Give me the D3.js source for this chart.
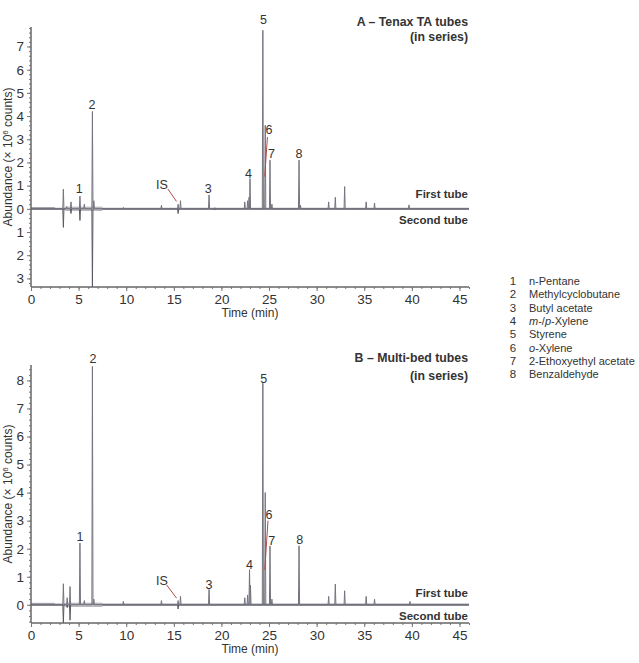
<!DOCTYPE html>
<html><head><meta charset="utf-8">
<script src="https://cdn.jsdelivr.net/npm/d3@7"></script>
<style>
body{margin:0;background:#fff;}
text{font-family:"Liberation Sans",Arial,sans-serif;fill:#333;}
</style></head>
<body><svg id="c" width="639" height="663"></svg>
<script>
// ---- data ----
const timeTicks = [0,5,10,15,20,25,30,35,40,45];
const yTicksA = [-3,-2,-1,0,1,2,3,4,5,6,7];
const yTicksB = [0,1,2,3,4,5,6,7,8];
// [retention time (min), abundance (x10^6 counts)]
const firstTubeA = [[3.4,0.85],[3.75,0.1],[4.2,0.3],[5.14,0.55],[5.6,0.2],[6.45,4.2],[6.6,0.35],[9.7,0.06],[13.7,0.15],[15.45,0.2],[15.7,0.35],[18.7,0.6],[19.3,0.05],[22.45,0.3],[22.75,0.35],[22.9,0.5],[23.0,1.3],[24.35,7.7],[24.6,3.6],[25.1,2.1],[25.3,0.2],[28.15,2.1],[28.3,0.15],[31.26,0.3],[31.96,0.5],[32.94,0.96],[35.2,0.3],[36.08,0.25],[39.7,0.17]];
const secondTubeA = [[3.4,0.8],[4.2,0.2],[5.14,0.5],[6.45,3.4],[15.45,0.2],[19.3,0.05]];
const firstTubeB = [[3.4,0.75],[3.8,0.25],[4.1,0.65],[5.14,2.2],[5.6,0.15],[6.45,8.5],[6.6,0.2],[9.7,0.12],[13.7,0.15],[15.45,0.15],[15.7,0.3],[18.7,0.55],[22.45,0.25],[22.75,0.35],[22.95,1.25],[23.05,0.7],[24.35,7.9],[24.6,4.0],[25.1,2.1],[25.3,0.2],[28.15,2.1],[31.26,0.3],[31.96,0.74],[32.94,0.5],[35.2,0.3],[36.08,0.2],[39.8,0.12]];
const secondTubeB = [[3.4,0.65],[3.8,0.1],[4.1,0.55],[15.45,0.15]];
// peak labels: [text, time, abundance]
const labelsA = [["1",5.07,0.86],["2",6.4,4.48],["IS",13.74,1.03],["3",18.6,0.89],["4",22.84,1.51],["5",24.41,8.15],["6",25.0,3.41],["7",25.25,2.36],["8",28.14,2.4]];
const labelsB = [["1",5.14,2.44],["2",6.5,8.77],["IS",13.74,0.85],["3",18.7,0.71],["4",22.94,1.44],["5",24.44,8.06],["6",25.0,3.22],["7",25.28,2.3],["8",28.22,2.33]];
// leader lines [t1,v1,t2,v2]
const leadersA = [[14.37,0.86,15.28,0.32],[24.83,3.1,24.55,1.39]];
const leadersB = [[14.23,0.71,15.28,0.24],[24.89,3.0,24.55,1.24]];
// noisy baseline segment [start, end] (min)
const noiseRange = [3.6,7.5];
const compounds = ["n-Pentane","Methylcyclobutane","Butyl acetate","m-/p-Xylene","Styrene","o-Xylene","2-Ethoxyethyl acetate","Benzaldehyde"];
const titlesA = ["A – Tenax TA tubes","(in series)"];
const titlesB = ["B – Multi-bed tubes","(in series)"];

const svg = d3.select("#c");
const X0 = 31, X1 = 469;
const x = d3.scaleLinear().domain([0,46]).range([X0,X1]);
const HW = 0.06;

function tracePts(peaks, sign){
  const pts = [[0,0]];
  peaks.slice().sort((a,b)=>a[0]-b[0]).forEach(([t,h])=>{
    pts.push([t-HW,0],[t,sign*h],[t+HW,0]);
  });
  pts.push([46,0]);
  return pts;
}

function panel(cfg){
  const y = d3.scaleLinear().domain(cfg.ydom).range([cfg.bottom,cfg.top]);
  const g = svg.append("g");
  const cid = "clip"+cfg.id;
  svg.append("clipPath").attr("id",cid).append("rect")
    .attr("x",X0).attr("y",cfg.top-20).attr("width",X1-X0).attr("height",cfg.bottom-cfg.top+20);
  const line = d3.line().x(d=>x(d[0])).y(d=>y(d[1]));
  const pg = g.append("g").attr("clip-path",`url(#${cid})`);
  // baseline band
  pg.append("path").attr("d",line([[0,0],[46,0]])).attr("stroke","#a2a2aa").attr("stroke-width",2.4).attr("fill","none");
  pg.append("path").attr("d",line([[0,0.03],[2.5,0.03]])).attr("stroke","#a2a2aa").attr("stroke-width",2.2).attr("fill","none");
  pg.append("path").attr("d",line([[noiseRange[0],0],[noiseRange[1],0]])).attr("stroke","#a2a2aa").attr("stroke-width",4).attr("fill","none");
  pg.append("path").attr("d",line([[noiseRange[0],0],[noiseRange[1],0]])).attr("stroke","#fff").attr("stroke-width",2).attr("fill","none");
  pg.append("path").attr("d",line(tracePts(cfg.second,-1))).attr("stroke","#5a5a64").attr("stroke-width",1).attr("fill","none");
  pg.append("path").attr("d",line(tracePts(cfg.first,1))).attr("stroke","#74747f").attr("stroke-width",1).attr("fill","none");
  // axes
  const xa = g.append("g").attr("transform",`translate(0,${cfg.bottom})`);
  xa.call(d3.axisBottom(x).tickValues(d3.range(0,47,1)).tickSize(2).tickFormat(""));
  xa.append("g").call(d3.axisBottom(x).tickValues(timeTicks).tickSize(4).tickPadding(3));
  xa.selectAll("path.domain").attr("stroke","#666").attr("d",`M${X0},0H${X1}`);
  xa.selectAll("line").attr("stroke","#777");
  xa.selectAll("text").attr("font-size",13.5).attr("fill","#333").attr("font-family","Liberation Sans,Arial,sans-serif");
  const ya = g.append("g").attr("transform",`translate(${X0},0)`);
  const mn = d3.range(Math.ceil(cfg.ydom[0]*5),Math.floor(cfg.ydom[1]*5)+1).map(d=>d/5);
  ya.call(d3.axisLeft(y).tickValues(mn).tickSize(2).tickFormat(""));
  ya.append("g").call(d3.axisLeft(y).tickValues(cfg.yticks).tickSize(4).tickPadding(3).tickFormat(d=>Math.abs(d)));
  ya.selectAll("path.domain").attr("stroke","#666").attr("d",`M0,${cfg.top}V${cfg.bottom}`);
  ya.selectAll("line").attr("stroke","#777");
  ya.selectAll("text").attr("font-size",13.5).attr("fill","#333").attr("font-family","Liberation Sans,Arial,sans-serif");
  // axis titles
  g.append("text").attr("x",250).attr("y",cfg.bottom+30).attr("text-anchor","middle").attr("font-size",12).text("Time (min)");
  const yl = g.append("text").attr("transform",`translate(11.5,${(cfg.top+cfg.bottom)/2}) rotate(-90)`).attr("text-anchor","middle").attr("font-size",12);
  yl.append("tspan").text("Abundance (× 10");
  yl.append("tspan").attr("dy",-4).attr("font-size",8).text("6");
  yl.append("tspan").attr("dy",4).text(" counts)");
  // labels
  cfg.labels.forEach(([s,t,v])=>{
    g.append("text").attr("x",x(t)).attr("y",y(v)).attr("dy","0.35em").attr("text-anchor","middle").attr("font-size",12.5).text(s);
  });
  cfg.leaders.forEach(([t1,v1,t2,v2])=>{
    g.append("line").attr("x1",x(t1)).attr("y1",y(v1)).attr("x2",x(t2)).attr("y2",y(v2)).attr("stroke","#b34a4a").attr("stroke-width",1);
  });
  // titles
  cfg.titles.forEach((s,i)=>{
    g.append("text").attr("x",468).attr("y",cfg.titleY[i]).attr("text-anchor","end").attr("font-weight","bold").attr("font-size",12.3).attr("fill","#222").text(s);
  });
  g.append("text").attr("x",468).attr("y",cfg.tubeY[0]).attr("text-anchor","end").attr("font-weight","bold").attr("font-size",11.5).attr("fill","#222").text("First tube");
  g.append("text").attr("x",468).attr("y",cfg.tubeY[1]).attr("text-anchor","end").attr("font-weight","bold").attr("font-size",11.5).attr("fill","#222").text("Second tube");
}

panel({id:"A",top:27,bottom:287,ydom:[-3.37,7.84],yticks:yTicksA,first:firstTubeA,second:secondTubeA,labels:labelsA,leaders:leadersA,titles:titlesA,titleY:[26,40.5],tubeY:[198,224]});
panel({id:"B",top:365,bottom:623,ydom:[-0.65,8.55],yticks:yTicksB,first:firstTubeB,second:secondTubeB,labels:labelsB,leaders:leadersB,titles:titlesB,titleY:[361.5,379.5],tubeY:[597,620]});

// legend
const lg = svg.append("g");
compounds.forEach((c,i)=>{
  const yy = 285 + i*13.33;
  lg.append("text").attr("x",513).attr("y",yy).attr("text-anchor","middle").attr("font-size",11.5).text(i+1);
  const t = lg.append("text").attr("x",529).attr("y",yy).attr("font-size",11);
  if(c.startsWith("m-/p-")){
    t.append("tspan").attr("font-style","italic").text("m");
    t.append("tspan").text("-/");
    t.append("tspan").attr("font-style","italic").text("p");
    t.append("tspan").text("-Xylene");
  } else if(c.startsWith("o-")){
    t.append("tspan").attr("font-style","italic").text("o");
    t.append("tspan").text("-Xylene");
  } else t.text(c);
});
</script></body></html>
